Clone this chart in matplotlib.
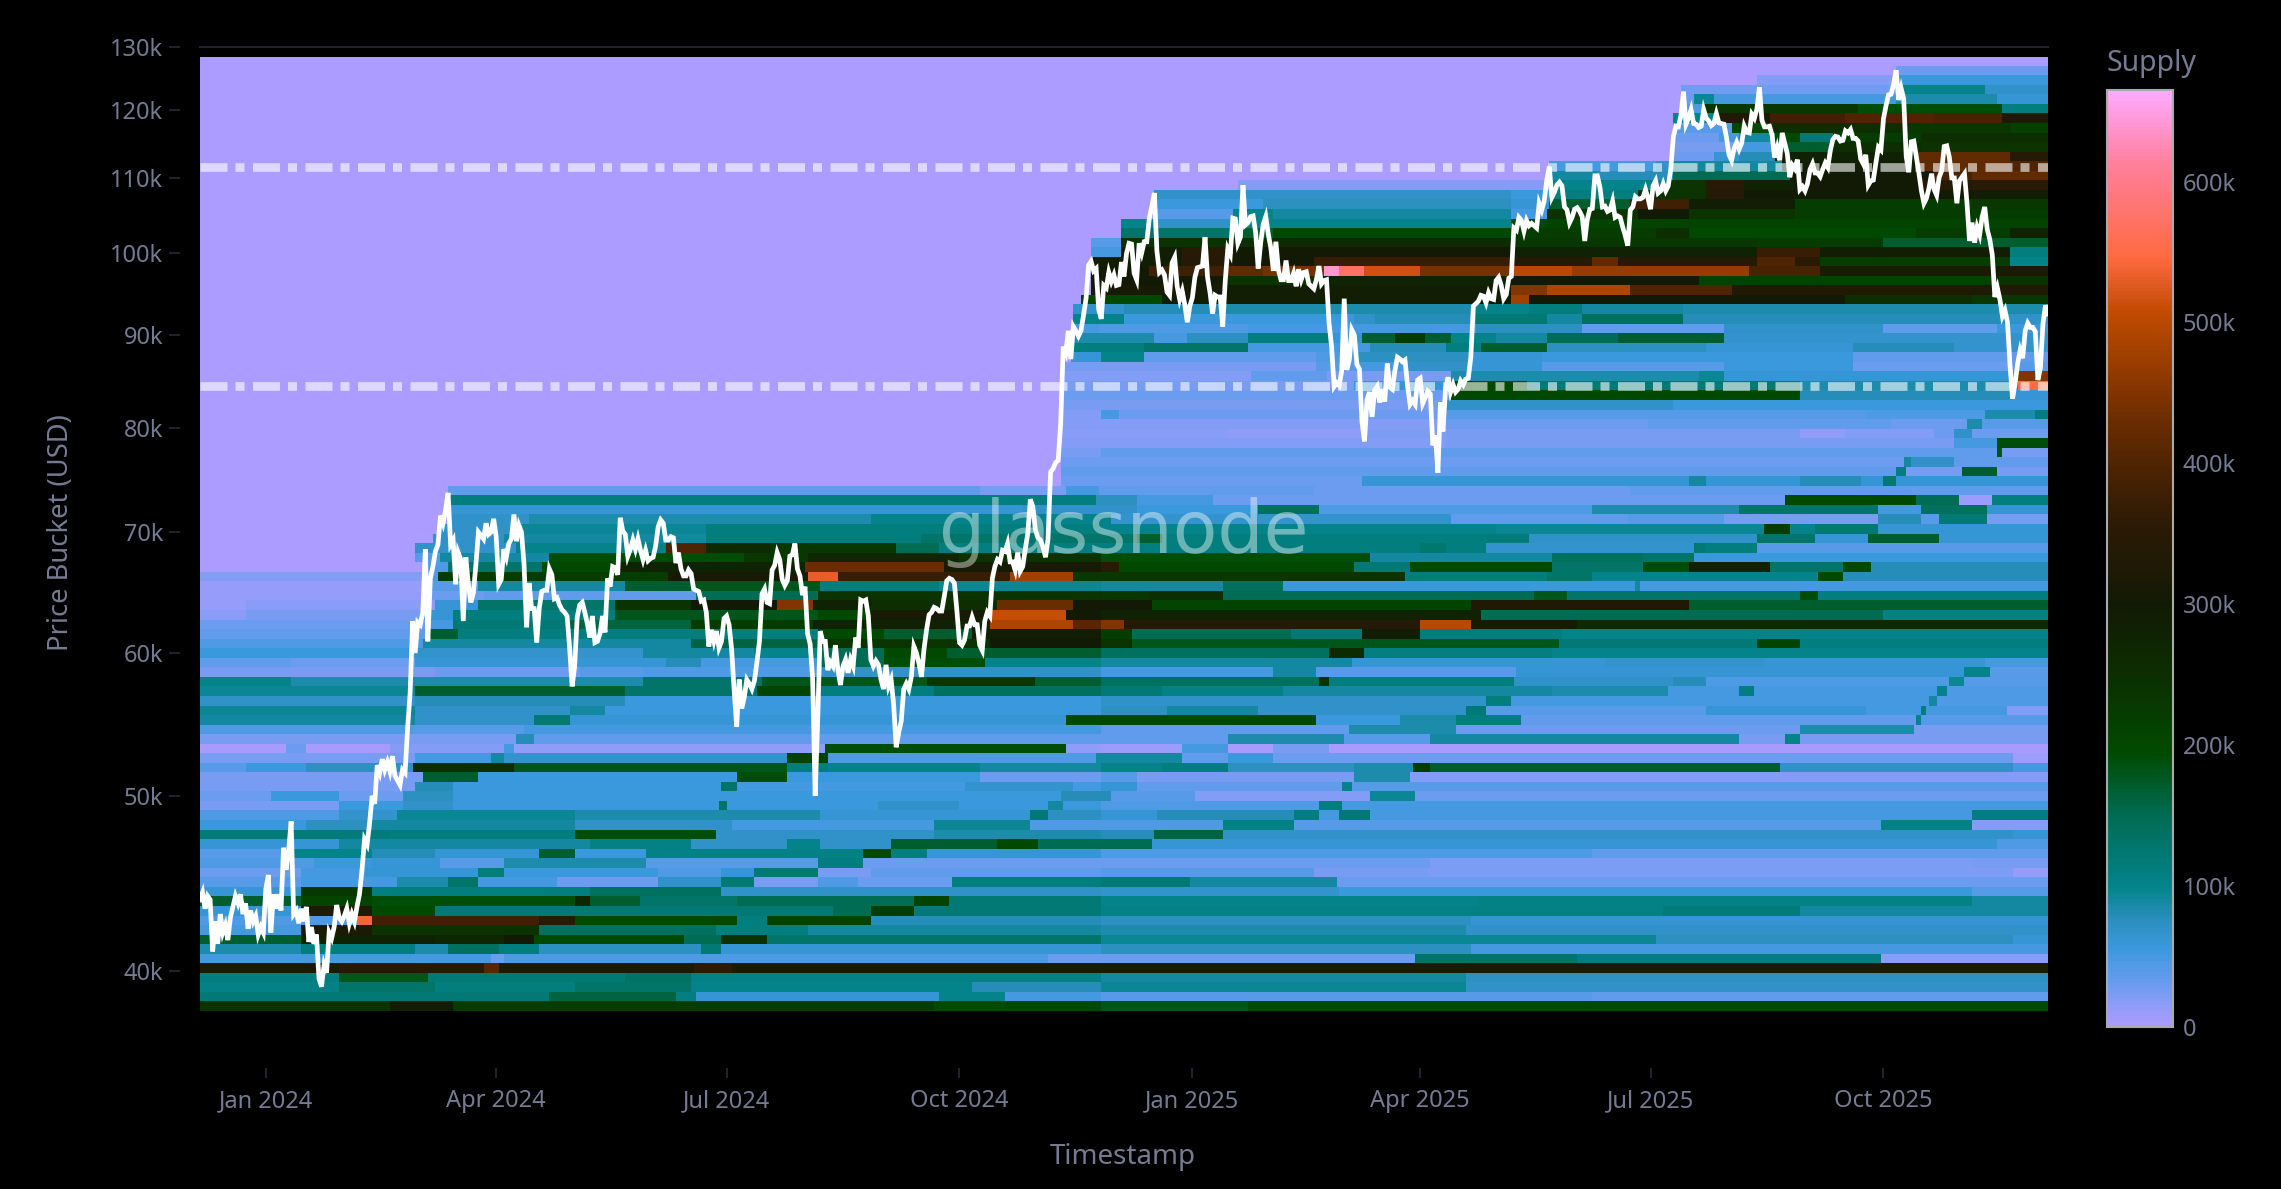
import pandas as pd
import numpy as np
import matplotlib
matplotlib.use('Agg')
from matplotlib import pyplot as plt
from matplotlib.colors import LinearSegmentedColormap, Normalize
import matplotlib.dates as mdates

W, H = 2281, 1189

# price bucket edges in thousand USD, low to high
bucket_edges = [38.00, 38.47, 38.94, 39.41, 39.90, 40.39, 40.88, 41.38, 41.89, 42.40,
                42.92, 43.45, 43.98, 44.52, 45.07, 45.62, 46.18, 46.74, 47.32, 47.90,
                48.48, 49.08, 49.68, 50.29, 50.90, 51.53, 52.16, 52.80, 53.45, 54.10,
                54.76, 55.43, 56.11, 56.80, 57.50, 58.20, 58.92, 59.64, 60.37, 61.11,
                61.86, 62.62, 63.39, 64.16, 64.95, 65.75, 66.55, 67.37, 68.19, 69.03,
                69.88, 70.73, 71.60, 72.48, 73.36, 74.26, 75.17, 76.09, 77.03, 77.97,
                78.93, 79.89, 80.87, 81.86, 82.86, 83.88, 84.91, 85.95, 87.00, 88.07,
                89.15, 90.24, 91.35, 92.47, 93.60, 94.75, 95.91, 97.08, 98.27, 99.48,
                100.70, 101.93, 103.18, 104.45, 105.73, 107.02, 108.34, 109.66, 111.01, 112.37,
                113.74, 115.14, 116.55, 117.98, 119.43, 120.89, 122.37, 123.87, 125.39, 126.93,
                128.35]

# supply per bucket, top bucket first: (start in 5-day steps from 2023-12-06, supply in k)
supply_runs = [
    [(0, 0)],
    [(0, 0), (134, 30)],
    [(0, 0), (123, 20), (134, 55)],
    [(0, 0), (117, 28), (134, 100), (141, 70)],
    [(0, 0), (117, 30), (118, 95), (119.5, 50), (134, 85), (142, 60)],
    [(0, 0), (117, 45), (118.8, 230), (131, 190), (142.5, 110)],
    [(0, 0), (116.5, 100), (120, 330), (124, 380), (130, 400), (137, 390), (142.5, 320)],
    [(0, 0), (116.5, 40), (121, 200), (124, 250), (135, 230), (143, 215)],
    [(0, 0), (116.5, 30), (120, 50), (121.5, 90), (124.5, 200), (126.5, 120), (129, 220), (136, 250)],
    [(0, 0), (116.5, 25), (121.5, 50), (124.5, 170), (129, 250), (136, 240)],
    [(0, 0), (116.5, 30), (119.5, 60), (121.5, 80), (124.5, 280), (135.5, 420), (143, 340)],
    [(0, 0), (106.6, 50), (115, 70), (116.5, 90), (125, 290), (135.5, 420), (143, 400)],
    [(0, 0), (106.6, 90), (110.5, 80), (116.5, 150), (125.5, 300), (137, 390), (140, 420)],
    [(0, 0), (82, 20), (106.6, 100), (116, 240), (119, 350), (122, 280), (126, 300), (136, 340), (140, 350)],
    [(0, 0), (75.4, 70), (103.5, 55), (106.6, 110), (113.5, 240), (119, 340), (122, 300), (140, 290)],
    [(0, 0), (75.4, 55), (84, 75), (103.5, 60), (106.6, 170), (113, 380), (117.5, 290), (126, 220), (140, 230)],
    [(0, 0), (75.4, 40), (81.6, 100), (84.7, 90), (103.5, 50), (106.4, 240), (113.5, 300), (117.5, 240), (126, 220)],
    [(0, 0), (72.9, 100), (75.4, 70), (81.6, 100), (103.5, 200), (106.4, 210)],
    [(0, 0), (72.9, 130), (81.6, 170), (84.7, 200), (103.5, 220), (115, 250), (117.5, 200), (135.5, 220), (143, 280)],
    [(0, 0), (70.4, 40), (72.9, 240), (81.6, 250), (84.7, 260), (103.5, 230), (123, 220), (133, 170)],
    [(0, 0), (70.4, 50), (72.9, 290), (77.6, 350), (81.6, 300), (103.5, 280), (123, 370), (128, 290), (143, 110)],
    [(0, 0), (70.4, 290), (77.6, 340), (81.6, 300), (88, 370), (103.5, 340), (110, 420), (112, 340), (123, 400), (126, 350), (128, 220), (143, 100)],
    [(0, 0), (70.4, 300), (75, 380), (81, 420), (84, 440), (88.8, 640), (90, 570), (92, 515), (96.3, 440), (103.5, 500), (108.5, 470), (122.5, 390), (128, 320)],
    [(0, 0), (70.4, 300), (81, 240), (88.7, 280), (103.5, 300), (118.5, 210), (141.7, 240)],
    [(0, 0), (70.4, 310), (81, 290), (103.5, 450), (106.4, 490), (113, 400), (121, 330)],
    [(0, 0), (69.5, 200), (76, 290), (103.5, 480), (105, 300), (130, 250), (140, 230)],
    [(0, 0), (69, 70), (73, 80), (81, 85), (100.8, 100), (105, 110), (109.3, 90), (117.2, 85)],
    [(0, 0), (69, 100), (73, 55), (91.2, 70), (92.8, 80), (100.8, 120), (106.4, 90), (109.3, 140), (117.2, 80), (142.7, 70)],
    [(0, 0), (69, 50), (71, 45), (82.7, 50), (100.8, 75), (109.3, 35), (120.5, 70), (133, 35), (142, 55)],
    [(0, 0), (69, 85), (75.4, 50), (78, 75), (82.7, 110), (89.2, 60), (91.8, 170), (94.3, 220), (96.8, 170), (98.8, 100), (102.3, 90), (106.4, 150), (112, 170), (120.5, 65)],
    [(0, 0), (68.7, 110), (74.6, 130), (82.7, 50), (92.3, 80), (98.3, 110), (101.3, 170), (106.4, 75), (119, 60), (130.6, 80), (138.6, 65)],
    [(0, 0), (68.7, 60), (71.1, 100), (74.6, 35), (88.2, 45), (91.3, 75), (100.3, 60), (105.9, 55), (130.6, 35)],
    [(0, 0), (68, 25), (88.2, 40), (91.5, 50), (95.3, 70), (100.3, 60), (105.9, 40), (120.3, 55), (130.6, 30), (143, 40)],
    [(0, 0), (68, 20), (83, 35), (89, 25), (98.8, 85), (118.5, 95), (120.5, 60), (143.6, 450)],
    [(0, 0), (68, 25), (91.3, 60), (98.8, 200), (104.9, 120), (126.5, 85), (143.6, 550)],
    [(0, 0), (68, 30), (98.8, 200), (126.3, 80), (143, 60)],
    [(0, 0), (68, 25), (98.4, 70), (116.5, 55)],
    [(0, 0), (68, 20), (71.1, 50), (72.6, 30), (98.4, 40), (131.6, 45), (141, 85), (145, 110)],
    [(0, 0), (68, 20), (98.4, 30), (114.4, 35), (133.6, 30), (139.6, 85), (140.9, 40)],
    [(0, 0), (68, 18), (81.2, 14), (91.8, 22), (98.4, 25), (126.5, 14), (130.1, 20), (137, 30), (138.6, 70), (140, 30)],
    [(0, 0), (68, 20), (98.4, 25), (138.6, 50), (142, 190)],
    [(0, 0), (68, 25), (71.1, 35), (141.9, 180), (142.4, 25)],
    [(0, 0), (68, 30), (134.6, 90), (135.3, 70), (138.6, 35)],
    [(0, 0), (68, 35), (134, 110), (134.8, 25), (139.2, 170), (142, 25)],
    [(0, 0), (68, 30), (91.8, 60), (117.5, 90), (119, 60), (126.5, 80), (131.1, 60), (133, 120), (134, 60)],
    [(0, 0), (19.6, 35), (61.5, 25), (68.5, 50), (71, 35), (88, 30), (113, 35)],
    [(0, 0), (19.6, 110), (70.7, 75), (74, 50), (80, 30), (125.3, 200), (135.6, 150), (139, 10), (141.5, 110)],
    [(0, 0), (19.6, 60), (65, 70), (74, 55), (83.7, 140), (88.5, 45), (110, 85), (121.5, 130), (132.6, 50), (135.9, 140), (141.2, 60)],
    [(0, 0), (19.6, 70), (26, 85), (53, 100), (72, 65), (98.8, 35), (112.9, 40), (120.5, 25), (132.6, 80), (135.9, 40), (137.4, 120), (141.2, 25)],
    [(0, 0), (19, 70), (25, 95), (40, 110), (71.1, 100), (102.3, 95), (123.5, 220), (125.5, 100), (127.5, 120), (132.6, 60)],
    [(0, 0), (18.4, 70), (24, 90), (40, 110), (57, 130), (74, 170), (76, 110), (101.6, 115), (105, 70), (123, 130), (127.5, 60), (131.8, 170), (137.4, 60)],
    [(0, 0), (17, 70), (25, 100), (36.7, 400), (40, 260), (45, 230), (55, 150), (58.5, 110), (96.3, 125), (98.3, 110), (101.6, 65), (118, 120), (119, 110), (123, 40)],
    [(0, 0), (17, 40), (19, 90), (27.5, 190), (43, 230), (48, 270), (60, 240), (71.1, 190), (92.3, 90), (106.9, 140), (114, 130), (118, 55)],
    [(0, 0), (17.5, 45), (19.5, 130), (27, 200), (33, 280), (47.8, 430), (58.9, 310), (71.1, 350), (72.6, 200), (91.3, 120), (95.5, 200), (106.9, 130), (114, 190), (117.5, 280), (124, 130), (129.8, 200), (131.9, 80)],
    [(0, 20), (17.5, 45), (18.8, 220), (37, 310), (48, 530), (50.3, 370), (64, 480), (69, 230), (85.9, 240), (95.3, 110), (106.4, 130), (110, 100), (127.8, 200), (129.8, 80)],
    [(0, 12), (18, 40), (22, 90), (33.7, 170), (38.8, 180), (49, 110), (58.5, 95), (71.1, 90), (80.7, 140), (85.7, 55), (113.4, 90), (113.8, 50)],
    [(0, 12), (18, 30), (22.5, 35), (39.3, 150), (48.8, 240), (71.1, 230), (75, 250), (80.7, 150), (105.4, 180), (108, 130), (126.3, 190), (127.8, 110)],
    [(0, 12), (3.5, 18), (18.6, 60), (22, 130), (32.7, 240), (38.8, 300), (45.5, 450), (48.3, 280), (53, 250), (63, 430), (69, 300), (75.1, 210), (100.3, 330), (117.5, 170)],
    [(0, 18), (3.5, 25), (17.5, 60), (20, 110), (32.7, 180), (48.8, 200), (53, 310), (62.5, 510), (68.5, 300), (71.1, 280), (101.3, 150), (133, 105)],
    [(0, 30), (18, 50), (20, 120), (28.7, 160), (38.8, 220), (48.3, 280), (62.5, 490), (69, 410), (71.1, 450), (73, 340), (96.5, 500), (100.3, 310), (108.9, 260)],
    [(0, 35), (18, 170), (20.5, 110), (48.8, 200), (54, 170), (61, 290), (71.1, 220), (73.6, 150), (86.2, 120), (91.8, 290), (96.5, 110), (107.6, 100)],
    [(0, 45), (17.5, 90), (38.8, 160), (48.8, 240), (62.5, 300), (71.1, 240), (73.6, 180), (107.4, 120), (123, 210), (126.3, 110)],
    [(0, 55), (17, 65), (35, 90), (43.8, 100), (49, 150), (53.9, 200), (59, 170), (71.1, 140), (89.3, 260), (92, 110), (106.9, 100)],
    [(0, 35), (7.3, 30), (17, 60), (36.7, 80), (39.7, 50), (48.8, 150), (54, 190), (62, 100), (71.1, 90), (91, 60), (111, 65), (123.5, 60), (141, 50)],
    [(0, 25), (18.6, 30), (30, 40), (35, 45), (48.8, 70), (71.1, 50), (84.7, 90), (88.2, 40), (104, 60), (139.4, 100), (141.4, 40)],
    [(0, 100), (7.3, 85), (35, 130), (44.5, 180), (57.4, 230), (66, 170), (71.1, 140), (88.3, 240), (89.2, 110), (103.8, 70), (116.5, 80), (119, 45), (138.2, 95), (139.4, 40)],
    [(0, 95), (17, 170), (33.7, 130), (44, 210), (48.8, 110), (58, 140), (71.1, 120), (76.1, 105), (85.7, 90), (106.9, 85), (116, 50), (121.7, 110), (122.8, 50), (137.1, 100), (138.1, 45)],
    [(0, 70), (17, 80), (33.7, 55), (71.1, 70), (101.6, 110), (103.6, 50), (136.6, 90), (137.1, 45)],
    [(0, 95), (17, 70), (29.2, 90), (32, 55), (71.1, 75), (76.5, 90), (83.7, 70), (99.9, 120), (101.6, 40), (119, 60), (131.6, 50), (135.9, 110), (136.4, 50), (142.7, 20)],
    [(0, 90), (17, 70), (26.4, 120), (29.2, 60), (68.5, 200), (88.2, 55), (94.8, 85), (99.3, 110), (104.4, 35), (135.7, 100), (136.1, 40)],
    [(0, 45), (17, 40), (25.7, 50), (71.1, 35), (90.8, 85), (99.3, 30), (126.3, 85), (135.4, 25)],
    [(0, 25), (25, 80), (26.4, 35), (81.2, 85), (90.5, 40), (97.3, 90), (121.7, 25), (125.3, 100), (126.3, 25)],
    [(0, 5), (6.7, 30), (8.5, 5), (15, 20), (24, 50), (24.7, 15), (49.4, 190), (68.3, 15), (71.1, 10), (77.6, 50), (81.2, 5), (84.7, 25), (89.2, 5)],
    [(0, 25), (17, 50), (23, 90), (24, 65), (46.3, 210), (49.5, 45), (70.7, 90), (77.6, 35), (81.2, 55), (84.7, 30), (143.3, 10)],
    [(0, 40), (3.5, 55), (8.5, 75), (16.8, 250), (24.7, 180), (46.3, 110), (49.5, 100), (61.5, 90), (71.1, 100), (76.1, 110), (81.2, 75), (91.3, 85), (95.8, 220), (97.3, 170), (124.8, 70), (143.3, 50)],
    [(0, 25), (17.5, 170), (22, 55), (42.3, 190), (46.3, 55), (61.5, 30), (71.1, 40), (74, 25), (91.3, 85), (95.5, 20)],
    [(0, 25), (17, 80), (20, 55), (41.3, 130), (42.3, 50), (60.5, 65), (69, 50), (71.1, 60), (74, 35), (90.2, 100), (91, 40)],
    [(0, 30), (5.5, 55), (11, 30), (16, 75), (20, 55), (68, 80), (72, 40), (78.6, 20), (92.3, 95), (96, 30)],
    [(0, 25), (11, 55), (16, 70), (20, 55), (41, 130), (41.5, 55), (53.5, 70), (60, 55), (67, 90), (68.2, 55), (71.1, 45), (88.5, 110), (90.2, 50)],
    [(0, 45), (11, 65), (15.5, 95), (29.7, 85), (49, 60), (65.5, 120), (67, 75), (71.1, 60), (75.6, 80), (86.5, 110), (88.5, 50), (90, 120), (92.3, 50), (140, 110)],
    [(0, 55), (8.5, 75), (13.5, 90), (29.7, 70), (42, 50), (58, 95), (65.5, 45), (80.7, 105), (86.5, 40), (132.8, 105), (140, 20)],
    [(0, 115), (15, 110), (29.7, 190), (40.8, 70), (57.9, 85), (71.1, 80), (75.4, 160), (80.7, 70), (143.3, 60)],
    [(0, 60), (11, 90), (30.7, 105), (38.8, 70), (46.3, 100), (49, 70), (54.6, 170), (63, 200), (66.2, 150), (75.3, 60), (142, 45)],
    [(0, 40), (7, 100), (13.6, 80), (18.6, 60), (26.9, 170), (29.7, 55), (35.2, 105), (52.4, 200), (54.6, 110), (57.4, 60), (71.1, 45), (110, 35)],
    [(0, 45), (9, 55), (13.6, 60), (19, 40), (23.9, 85), (35.2, 40), (48.8, 110), (52.4, 30), (97.3, 22), (140, 25)],
    [(0, 30), (8, 50), (13, 60), (22.1, 110), (24, 55), (36.2, 45), (41.3, 60), (43.8, 120), (48.8, 25), (53, 35), (71.1, 40), (88, 25), (97, 22), (143.3, 12)],
    [(0, 40), (8, 50), (15.6, 85), (19.6, 130), (22.1, 50), (28.2, 30), (36.2, 70), (41.3, 120), (43.8, 25), (48.8, 45), (52, 30), (59.4, 110), (71.1, 120), (78.2, 90), (89.8, 30)],
    [(0, 60), (8, 230), (13.5, 110), (30.7, 140), (41.3, 70), (71.1, 65), (90, 55), (140, 40)],
    [(0, 170), (8, 210), (13.5, 190), (29.7, 270), (30.7, 170), (34.7, 130), (42.3, 150), (56.4, 210), (59.2, 120), (71.1, 100), (101, 105), (140, 90)],
    [(0, 60), (8, 330), (13.5, 200), (18.6, 120), (50, 150), (53, 220), (56.4, 120), (71.1, 105), (115.7, 115), (126.3, 90)],
    [(0, 45), (12.5, 540), (13.6, 380), (26.7, 350), (29.7, 200), (42.3, 110), (44.8, 210), (53, 80), (71.1, 75), (100.3, 60)],
    [(0, 50), (8, 320), (13.5, 240), (26.7, 140), (40.8, 110), (48, 90), (71.1, 85), (100, 70)],
    [(0, 170), (8, 280), (18.6, 270), (24, 300), (26.4, 200), (38.2, 150), (41.3, 240), (44.8, 130), (71.1, 95), (115, 75), (143.3, 60)],
    [(0, 85), (8, 110), (17, 85), (19.6, 140), (23.6, 110), (26.7, 75), (39.7, 120), (41.3, 60), (71.1, 75), (100.3, 50)],
    [(0, 50), (23, 30), (24, 45), (67, 30), (96.1, 130), (108.7, 110), (132.8, 18)],
    [(0, 320), (11, 345), (22.5, 410), (23.7, 320), (39, 360), (42, 320)],
    [(0, 110), (11, 180), (18, 120), (33.7, 135), (38.8, 105), (71.1, 90), (100, 75)],
    [(0, 105), (11, 130), (18.6, 110), (29.7, 130), (38.8, 100), (61, 80), (71.1, 95), (100, 70)],
    [(0, 120), (27.7, 160), (37.7, 110), (39.3, 60), (58.4, 100), (63.7, 50), (71.1, 40), (110, 35)],
    [(0, 240), (15, 290), (20, 220), (58, 195), (71.1, 180), (82.7, 195)],
]

# BTC price in k USD, one value a day from each month's first date
price_2023_12 = [43.8, 44.2, 43.3, 44.0, 43.8, 41.0, 42.6, 41.4, 43.0, 42.0, 42.4, 41.6, 42.8, 43.4, 44.0, 43.6, 44.1, 43.0, 43.6, 42.2, 43.2, 42.6, 42.9, 41.9, 42.3, 42.0]
price_2024_01 = [44.4, 45.2, 42.0, 44.1, 43.3, 44.1, 43.2, 46.8, 45.5, 46.6, 48.4, 43.0, 43.2, 42.5, 43.3, 42.6, 43.4, 41.5, 42.3, 41.4, 41.9, 39.6, 39.2, 40.3, 39.9, 42.0, 41.7, 42.3, 43.5, 42.8, 42.6]
price_2024_02 = [42.9, 43.3, 42.5, 43.0, 42.6, 43.4, 44.1, 45.5, 47.3, 47.0, 48.3, 50.0, 49.5, 52.0, 51.5, 52.4, 51.7, 52.2, 51.6, 52.6, 51.3, 51.0, 50.7, 51.7, 51.5, 54.5, 57.0, 62.5, 60.0]
price_2024_03 = [62.4, 62.2, 63.2, 68.5, 60.9, 66.0, 67.0, 68.3, 68.9, 71.5, 70.8, 72.0, 73.6, 68.9, 69.3, 65.5, 68.2, 67.6, 62.5, 67.8, 65.5, 64.0, 64.8, 67.2, 70.0, 69.7, 69.4, 70.8, 69.8, 70.0, 71.2]
price_2024_04 = [69.6, 65.5, 65.9, 68.5, 67.8, 69.0, 69.4, 71.6, 69.2, 70.6, 70.0, 67.2, 62.0, 65.6, 63.5, 63.5, 60.8, 63.5, 64.9, 65.0, 65.0, 66.8, 66.3, 64.3, 64.4, 63.8, 63.4, 63.2, 62.9, 60.4]
price_2024_05 = [57.5, 59.0, 62.8, 63.8, 64.0, 63.2, 62.3, 61.2, 62.9, 60.8, 60.9, 61.5, 62.9, 61.6, 66.0, 65.3, 67.0, 66.9, 66.3, 71.3, 70.1, 69.8, 67.9, 68.5, 69.3, 68.5, 69.4, 68.4, 67.6, 68.4, 67.5]
price_2024_06 = [67.7, 67.8, 68.8, 70.5, 71.1, 70.8, 69.3, 69.3, 69.6, 69.5, 67.3, 68.2, 66.8, 66.2, 66.2, 66.7, 66.4, 65.1, 65.0, 64.9, 64.1, 64.2, 63.2, 60.5, 61.8, 60.9, 61.7, 60.4, 60.9, 62.7]
price_2024_07 = [62.9, 62.2, 60.3, 57.2, 54.6, 58.0, 55.9, 56.7, 58.0, 57.7, 57.3, 57.9, 59.3, 60.9, 64.7, 65.1, 64.0, 63.9, 66.7, 67.1, 68.2, 67.6, 65.9, 65.4, 65.8, 67.9, 68.0, 69.0, 66.8, 66.2, 64.6]
price_2024_08 = [65.3, 61.5, 60.7, 58.1, 50.0, 55.0, 61.7, 60.9, 60.9, 58.7, 59.3, 59.0, 60.6, 58.7, 57.6, 59.0, 59.5, 58.5, 59.5, 59.0, 61.2, 60.4, 64.2, 64.1, 64.2, 62.9, 59.5, 59.0, 59.4, 59.1, 58.0]
price_2024_09 = [57.3, 59.1, 57.5, 58.0, 56.2, 53.2, 54.2, 55.0, 57.3, 57.7, 57.3, 58.2, 60.5, 60.0, 59.2, 58.2, 60.3, 61.8, 63.0, 63.2, 63.6, 63.5, 63.3, 63.3, 64.5, 65.8, 66.0, 65.9, 65.6, 63.3]
price_2024_10 = [60.8, 60.6, 61.0, 62.1, 62.1, 62.8, 62.2, 62.2, 60.6, 60.2, 62.5, 63.2, 62.9, 66.0, 67.0, 67.6, 67.4, 68.4, 68.3, 69.0, 67.4, 67.4, 66.7, 68.2, 66.6, 67.0, 68.5, 69.9, 73.0, 72.3, 70.2]
price_2024_11 = [69.5, 69.3, 68.7, 67.8, 69.4, 75.6, 75.9, 76.5, 76.7, 80.5, 88.7, 88.0, 90.5, 87.3, 91.0, 90.5, 89.9, 90.5, 92.3, 94.3, 98.4, 98.9, 97.7, 98.0, 93.0, 91.9, 95.9, 95.6, 97.5, 96.4]
price_2024_12 = [97.2, 95.9, 96.0, 98.8, 97.0, 99.9, 101.2, 101.1, 97.4, 96.6, 101.2, 100.0, 101.4, 101.4, 104.5, 106.1, 107.9, 100.2, 97.5, 97.8, 97.2, 95.1, 94.7, 98.7, 99.4, 95.8, 94.2, 95.2, 93.6, 91.5, 93.4]
price_2025_01 = [94.4, 96.9, 98.1, 98.2, 98.3, 102.0, 96.9, 95.0, 92.5, 94.7, 94.5, 94.5, 91.0, 96.5, 100.5, 99.8, 104.5, 104.4, 101.2, 102.0, 109.0, 103.6, 103.9, 104.7, 104.8, 102.6, 98.0, 101.3, 103.7, 104.7, 102.4]
price_2025_02 = [100.6, 97.7, 101.4, 97.8, 96.6, 96.6, 99.0, 96.5, 96.5, 97.4, 95.8, 97.9, 96.6, 97.5, 97.6, 96.1, 95.8, 95.5, 96.6, 98.3, 96.1, 96.5, 96.6, 91.4, 88.7, 84.3, 84.7, 84.4]
price_2025_03 = [86.0, 94.3, 86.1, 87.2, 90.6, 90.0, 86.7, 86.2, 80.6, 78.6, 82.9, 83.7, 81.1, 83.9, 84.3, 82.6, 84.0, 82.7, 86.8, 84.2, 84.0, 86.0, 87.5, 87.3, 87.0, 87.2, 84.4, 82.4, 82.8, 82.4, 85.0]
price_2025_04 = [85.2, 82.5, 83.1, 83.8, 83.5, 78.2, 79.2, 75.5, 82.6, 79.6, 84.0, 85.3, 83.7, 84.5, 83.7, 84.0, 84.9, 84.5, 85.1, 85.2, 87.5, 93.4, 93.7, 94.0, 94.7, 94.6, 93.8, 95.0, 94.3, 94.2]
price_2025_05 = [96.5, 96.9, 95.9, 94.3, 94.8, 96.8, 97.0, 103.2, 102.9, 104.6, 104.2, 102.8, 104.2, 103.5, 103.8, 103.5, 103.2, 106.5, 105.6, 106.8, 109.7, 111.6, 107.3, 108.0, 109.0, 109.4, 108.9, 106.0, 105.6, 103.9, 104.6]
price_2025_06 = [105.7, 105.9, 105.4, 104.7, 101.5, 104.3, 105.7, 105.8, 110.3, 110.3, 108.7, 106.0, 106.1, 105.4, 105.6, 106.8, 104.6, 104.8, 104.6, 103.3, 102.2, 100.9, 105.6, 106.0, 107.4, 107.1, 107.1, 107.3, 108.4, 107.2]
price_2025_07 = [105.7, 108.9, 109.6, 107.9, 108.2, 109.2, 108.2, 108.9, 111.3, 115.9, 117.5, 117.4, 119.1, 122.8, 117.8, 118.7, 120.0, 117.9, 117.8, 117.3, 117.5, 120.0, 118.7, 118.3, 117.6, 117.9, 119.4, 118.0, 117.9, 117.8, 115.8]
price_2025_08 = [113.3, 112.5, 114.2, 115.1, 114.1, 115.0, 117.5, 116.6, 116.5, 119.3, 118.7, 120.1, 123.5, 118.4, 117.4, 117.4, 117.5, 116.2, 112.9, 114.3, 112.5, 116.5, 115.0, 113.5, 110.1, 111.8, 111.3, 112.6, 108.4, 108.8, 108.2]
price_2025_09 = [109.2, 111.2, 112.0, 110.7, 110.7, 110.2, 111.2, 112.1, 111.5, 113.9, 115.5, 116.0, 115.9, 115.3, 115.4, 116.8, 116.5, 117.0, 115.7, 115.7, 115.3, 112.7, 112.0, 113.3, 109.0, 109.6, 109.7, 112.1, 114.4, 114.0]
price_2025_10 = [118.6, 120.6, 122.3, 122.4, 124.0, 126.2, 121.5, 123.3, 121.7, 113.0, 110.8, 115.2, 115.3, 113.0, 110.7, 108.2, 106.5, 107.2, 108.6, 110.6, 108.4, 107.6, 110.1, 111.0, 114.5, 114.6, 113.0, 110.0, 110.0, 106.5, 109.6]
price_2025_11 = [110.1, 110.6, 106.5, 101.5, 103.9, 101.3, 103.3, 102.3, 104.7, 106.0, 103.0, 101.7, 99.7, 94.5, 95.6, 94.2, 92.2, 92.9, 91.5, 86.6, 83.0, 84.6, 86.8, 88.3, 87.4, 90.5, 91.4, 90.9, 90.9, 90.4]
price_2025_12 = [85.0, 86.3, 91.3, 93.5, 92.5]

price_months = [('2023-12-06', price_2023_12), ('2024-01-01', price_2024_01), ('2024-02-01', price_2024_02),
                ('2024-03-01', price_2024_03), ('2024-04-01', price_2024_04), ('2024-05-01', price_2024_05),
                ('2024-06-01', price_2024_06), ('2024-07-01', price_2024_07), ('2024-08-01', price_2024_08),
                ('2024-09-01', price_2024_09), ('2024-10-01', price_2024_10), ('2024-11-01', price_2024_11),
                ('2024-12-01', price_2024_12), ('2025-01-01', price_2025_01), ('2025-02-01', price_2025_02),
                ('2025-03-01', price_2025_03), ('2025-04-01', price_2025_04), ('2025-05-01', price_2025_05),
                ('2025-06-01', price_2025_06), ('2025-07-01', price_2025_07), ('2025-08-01', price_2025_08),
                ('2025-09-01', price_2025_09), ('2025-10-01', price_2025_10), ('2025-11-01', price_2025_11),
                ('2025-12-01', price_2025_12)]

level_prices = [111.5, 84.4]
y_ticks = [40, 50, 60, 70, 80, 90, 100, 110, 120, 130]
x_ticks = ['2024-01-01', '2024-04-01', '2024-07-01', '2024-10-01', '2025-01-01', '2025-04-01', '2025-07-01', '2025-10-01']
cbar_ticks = [0, 100, 200, 300, 400, 500, 600]

# colour scale (supply in k, colour)
scale_stops = [(0, '#ad9cff'), (28, '#6c9cf0'), (55, '#3a98dc'), (75, '#2a8fbe'), (98, '#04848c'),
               (150, '#006b52'), (195, '#004a00'), (245, '#0b3000'), (300, '#121a05'), (355, '#2b1a05'),
               (395, '#4a2303'), (430, '#6a2d00'), (507, '#c04a00'), (547, '#ff6a40'), (615, '#ff7f9f'), (665, '#ffaaff')]

TEXT = '#767b93'
DARK = '#1f2230'
plt.rcParams['font.family'] = ['Noto Sans', 'DejaVu Sans']

days = 730
start = pd.Timestamp('2023-12-06')
supply = np.zeros((len(supply_runs), days))
for row, runs in enumerate(supply_runs):
    for col, val in runs:
        supply[row, int(round(col * 5)):] = val
supply = supply[::-1]

cmap = LinearSegmentedColormap.from_list('supply', [(v / 665, c) for v, c in scale_stops])
norm = Normalize(0, 665)

fig = plt.figure(figsize=(W / 100, H / 100), dpi=100, facecolor='black')
ax = fig.add_axes([200 / W, 1 - 1011 / H, 1848 / W, 964 / H], facecolor='black')

date_edges = pd.date_range(start, periods=days + 1, freq='D')
mesh = ax.pcolormesh(date_edges, np.array(bucket_edges) * 1000, supply, cmap=cmap, norm=norm, shading='flat', zorder=1)

for p in level_prices:
    ax.axhline(p * 1000, color='white', alpha=0.6, lw=8.7 * 0.72, zorder=3,
               dashes=(27 / 8.7, 8 / 8.7, 9 / 8.7, 8.5 / 8.7), dash_capstyle='butt')

ax.text(1123.5 / W, 1 - 553 / H, 'glassnode', transform=fig.transFigure, color='white', alpha=0.42, fontsize=52.6,
        family='DejaVu Sans', ha='center', va='baseline', zorder=4)

pr_dates = []
pr_vals = []
for first, vals in price_months:
    pr_dates.extend(pd.date_range(first, periods=len(vals), freq='D'))
    pr_vals.extend(vals)
ax.plot(pr_dates, np.array(pr_vals) * 1000, color='white', lw=3.4, zorder=5, solid_joinstyle='miter')

ax.axhline(130000, color=DARK, lw=1.5, clip_on=False, zorder=0)

ax.set_yscale('log')
ax.set_ylim(38000, 130000)
ax.set_xlim(start, start + pd.Timedelta(days=days))
ax.set_yticks([t * 1000 for t in y_ticks])
ax.set_yticklabels([f'{t}k' for t in y_ticks])
ax.minorticks_off()
ax.set_xticks(pd.to_datetime(x_ticks))
ax.xaxis.set_major_formatter(mdates.DateFormatter('%b %Y'))
for s in ['top', 'right', 'left', 'bottom']:
    ax.spines[s].set_visible(False)
ax.spines['left'].set_position(('outward', 14.4))
ax.spines['bottom'].set_position(('outward', 41))
ax.tick_params(axis='y', length=8, width=1.4, color=DARK, labelcolor=TEXT, labelsize=17, pad=4)
ax.tick_params(axis='x', length=7.2, width=1.4, color=DARK, labelcolor=TEXT, labelsize=17, pad=8)

fig.text(61 / W, 1 - 533 / H, 'Price Bucket (USD)', color=TEXT, fontsize=19.7, rotation=90, ha='center', va='center')
fig.text(1123 / W, 1 - 1157 / H, 'Timestamp', color=TEXT, fontsize=20, ha='center', va='center')
fig.text(2107 / W, 1 - 63 / H, 'Supply', color=TEXT, fontsize=20.5, ha='left', va='center')

cax = fig.add_axes([2107 / W, 1 - 1027 / H, 66 / W, 937 / H])
cbar = fig.colorbar(mesh, cax=cax)
cbar.set_ticks(cbar_ticks)
cbar.set_ticklabels(['0' if t == 0 else f'{t}k' for t in cbar_ticks])
cbar.ax.tick_params(length=0, pad=7, labelcolor=TEXT, labelsize=17)
cbar.outline.set_edgecolor('#aaaaaa')
cbar.outline.set_linewidth(1.5)

fig.savefig('out.png', dpi=100, facecolor='black')
